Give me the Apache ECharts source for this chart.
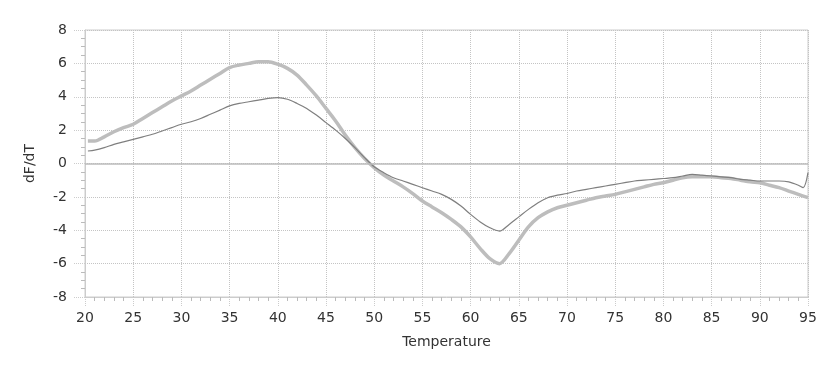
<!DOCTYPE html>
<html>
<head>
<meta charset="utf-8">
<script src="https://cdn.jsdelivr.net/npm/echarts@6/dist/echarts.min.js"></script>
<style>
  html, body { margin: 0; padding: 0; background: #fff; }
  #chart { width: 832px; height: 390px; }
</style>
</head>
<body>
<div id="chart"></div>
<script>
var temps = [20.3, 21, 22, 23, 24, 25, 26, 27, 28, 29, 30, 31, 32, 33, 34, 35, 36, 37, 38, 39,
  40, 41, 42, 43, 44, 45, 46, 47, 48, 49, 50, 51, 52, 53, 54, 55, 56, 57, 58, 59,
  60, 61, 62, 63, 64, 65, 66, 67, 68, 69, 70, 71, 72, 73, 74, 75, 76, 77, 78, 79,
  80, 81, 82, 83, 84, 85, 86, 87, 88, 89, 90, 91, 92, 93, 94, 95];

// thick light curve
var thickVals = [1.35, 1.35, 1.6, 1.9, 2.15, 2.35, 2.7, 3.05, 3.4, 3.75, 4.05, 4.35, 4.7, 5.05, 5.4, 5.75, 5.9, 6.0, 6.1, 6.1,
  5.95, 5.7, 5.3, 4.7, 4.05, 3.3, 2.55, 1.7, 0.95, 0.3, -0.25, -0.7, -1.05, -1.4, -1.8, -2.25, -2.6, -2.95, -3.35, -3.8,
  -4.4, -5.1, -5.7, -6.0, -5.4, -4.6, -3.8, -3.25, -2.9, -2.65, -2.5, -2.35, -2.2, -2.05, -1.95, -1.85, -1.7, -1.55, -1.4, -1.25,
  -1.15, -1.0, -0.85, -0.8, -0.8, -0.8, -0.85, -0.9, -1.0, -1.1, -1.15, -1.3, -1.45, -1.65, -1.85, -2.05];

// thin darker curve
var thinTemps = temps.slice(0, 75).concat([94.5, 95]);
var thinVals = [0.75, 0.8, 0.95, 1.15, 1.3, 1.45, 1.6, 1.75, 1.95, 2.15, 2.35, 2.5, 2.7, 2.95, 3.2, 3.45, 3.6, 3.7, 3.8, 3.9,
  3.95, 3.85, 3.6, 3.3, 2.9, 2.45, 2.0, 1.5, 0.95, 0.35, -0.2, -0.55, -0.85, -1.05, -1.25, -1.45, -1.65, -1.85, -2.15, -2.55,
  -3.05, -3.5, -3.85, -4.05, -3.65, -3.2, -2.75, -2.35, -2.05, -1.9, -1.8, -1.65, -1.55, -1.45, -1.35, -1.25, -1.15, -1.05, -1.0, -0.95,
  -0.9, -0.85, -0.75, -0.65, -0.7, -0.75, -0.8, -0.85, -0.95, -1.0, -1.05, -1.05, -1.05, -1.1, -1.3, -1.45, -0.55];

function pairs(xs, ys) {
  return xs.map(function (x, i) { return [x, ys[i]]; });
}

var chart = echarts.init(document.getElementById('chart'));
var font = 'DejaVu Sans';
var option = {
  animation: false,
  grid: {
    left: 85, right: 24, top: 30, bottom: 93,
    show: true, borderColor: '#cccccc', borderWidth: 1
  },
  xAxis: {
    type: 'value', min: 20, max: 95, interval: 5,
    name: 'Temperature', nameLocation: 'middle', nameGap: 38,
    nameTextStyle: { color: '#333', fontSize: 14, fontFamily: font },
    axisLine: { show: true, onZero: false, lineStyle: { color: '#cccccc' } },
    axisTick: { show: true, length: 10, lineStyle: { color: '#cccccc', type: 'dotted' } },
    minorTick: { show: true, splitNumber: 5, length: 4, lineStyle: { color: '#bbbbbb' } },
    axisLabel: { color: '#333', fontSize: 14, fontFamily: font, margin: 14 },
    splitLine: { show: true, lineStyle: { color: '#c4c4c4', type: 'dotted' } }
  },
  yAxis: {
    type: 'value', min: -8, max: 8, interval: 2,
    name: 'dF/dT', nameLocation: 'middle', nameGap: 48, nameRotate: 90,
    nameTextStyle: { color: '#333', fontSize: 14, fontFamily: font },
    axisLine: { show: true, lineStyle: { color: '#cccccc' } },
    axisTick: { show: true, length: 12, lineStyle: { color: '#cccccc', type: 'dotted' } },
    minorTick: { show: true, splitNumber: 4, length: 4, lineStyle: { color: '#bbbbbb' } },
    axisLabel: { color: '#333', fontSize: 14, fontFamily: font, margin: 18 },
    splitLine: { show: true, lineStyle: { color: '#c4c4c4', type: 'dotted' } }
  },
  series: [
    {
      type: 'line',
      data: pairs(temps, thickVals),
      showSymbol: false,
      smooth: 0.3,
      lineStyle: { color: '#bdbdbd', width: 3.5 },
      markLine: {
        silent: true, symbol: 'none', label: { show: false },
        lineStyle: { color: '#bbbbbb', type: 'solid', width: 1.5 },
        data: [{ yAxis: 0 }]
      },
      z: 2
    },
    {
      type: 'line',
      data: pairs(thinTemps, thinVals),
      showSymbol: false,
      smooth: 0.3,
      lineStyle: { color: '#7f7f7f', width: 1.2 },
      z: 3
    }
  ]
};
chart.setOption(option);
</script>
</body>
</html>
